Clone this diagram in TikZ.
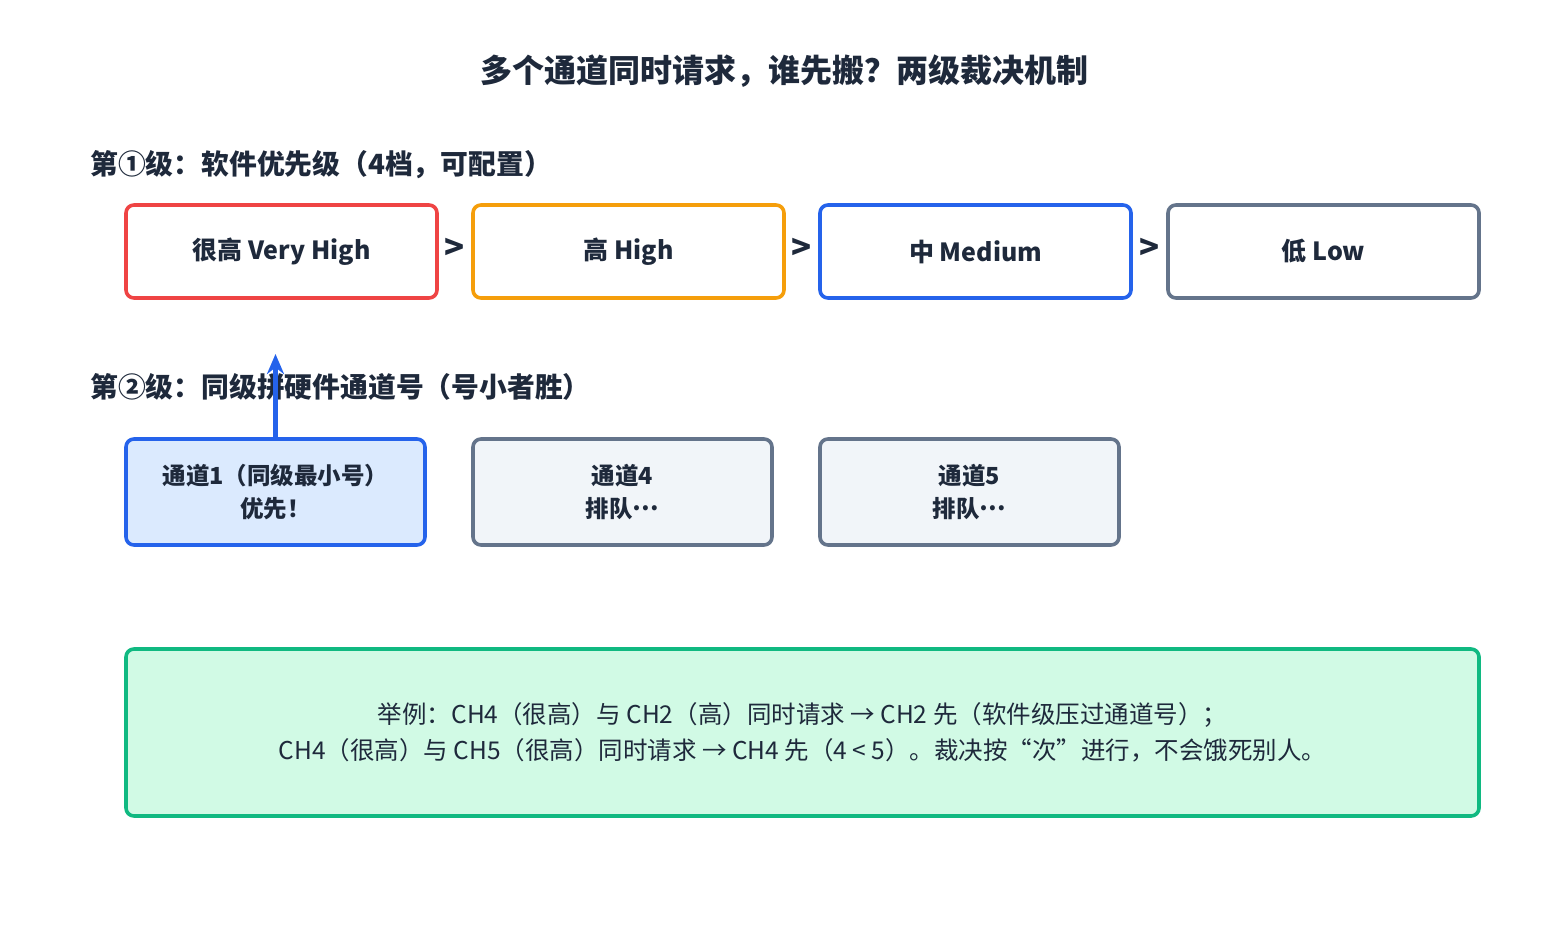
\documentclass[tikz,border=0pt]{standalone}
\usepackage{fontspec}
\setmainfont{Noto Sans CJK SC}
\usetikzlibrary{arrows.meta}
\definecolor{txt}{HTML}{1E293B}
\definecolor{cred}{HTML}{EF4444}
\definecolor{corange}{HTML}{F59E0B}
\definecolor{cblue}{HTML}{2563EB}
\definecolor{cgray}{HTML}{64748B}
\definecolor{fblue}{HTML}{DBEAFE}
\definecolor{fgray}{HTML}{F1F5F9}
\definecolor{cgreen}{HTML}{10B981}
\definecolor{fgreen}{HTML}{D1FAE5}
\newcommand{\midell}{\raisebox{0.3em}{…}}
\tikzset{
  prio/.style={draw, line width=3.6pt, rounded corners=8pt, fill=white, minimum width=311pt, minimum height=93pt, inner sep=0pt, text=txt, font=\fontsize{25}{28}\selectfont\bfseries},
  chan/.style={draw, line width=3.6pt, rounded corners=8pt, minimum width=299pt, minimum height=106pt, inner sep=0pt, text=txt, align=center, font=\fontsize{23.5}{33}\selectfont\bfseries},
  gt/.style={text=txt, font=\fontsize{33}{36}\selectfont\bfseries, inner sep=0pt},
  sect/.style={anchor=west, text=txt, font=\fontsize{27.8}{32}\selectfont\bfseries, inner sep=0pt},
  upar/.style={cblue, line width=4.5pt, -{Stealth[length=20pt,width=17pt]}},
}
\begin{document}
\begin{tikzpicture}[x=1pt,y=-1pt]
\useasboundingbox (0,0) rectangle (1568,942);
\node[text=txt, font=\fontsize{32}{36}\selectfont\bfseries, inner sep=0pt] (title) at (784,71) {多个通道同时请求，谁先搬？两级裁决机制};
\node[sect] (s1) at (90,165) {第①级：软件优先级（4档，可配置）};
\node[prio, draw=cred] (p1) at (281.5,251.5) {很高 Very High};
\node[prio, draw=corange] (p2) at (628.5,251.5) {高 High};
\node[prio, draw=cblue] (p3) at (975.5,251.5) {中 Medium};
\node[prio, draw=cgray] (p4) at (1323.5,251.5) {低 Low};
\node[gt] (g1) at (455,249) {>};
\node[gt] (g2) at (802,249) {>};
\node[gt] (g3) at (1150,249) {>};
\node[sect] (s2) at (90,387) {第②级：同级拼硬件通道号（号小者胜）};
\node[chan, draw=cblue, fill=fblue] (c1) at (275.5,492) {通道1（同级最小号）\\优先！};
\node[chan, draw=cgray, fill=fgray] (c4) at (622.5,492) {通道4\\排队\midell};
\node[chan, draw=cgray, fill=fgray] (c5) at (969.5,492) {通道5\\排队\midell};
\coordinate (atip) at (275.5,354);
\draw[upar] (c1.north) -- (atip);
\node[draw=cgreen, fill=fgreen, line width=3.6pt, rounded corners=8pt, minimum width=1353pt, minimum height=167pt, inner sep=0pt, align=center, text=txt, font=\fontsize{24.5}{36}\selectfont] (ex) at (802.5,732.5) {举例：CH4（很高）与 CH2（高）同时请求 → CH2 先（软件级压过通道号）；\\CH4（很高）与 CH5（很高）同时请求 → CH4 先（4 < 5）。裁决按“次”进行，不会饿死别人。};
\end{tikzpicture}
\end{document}
